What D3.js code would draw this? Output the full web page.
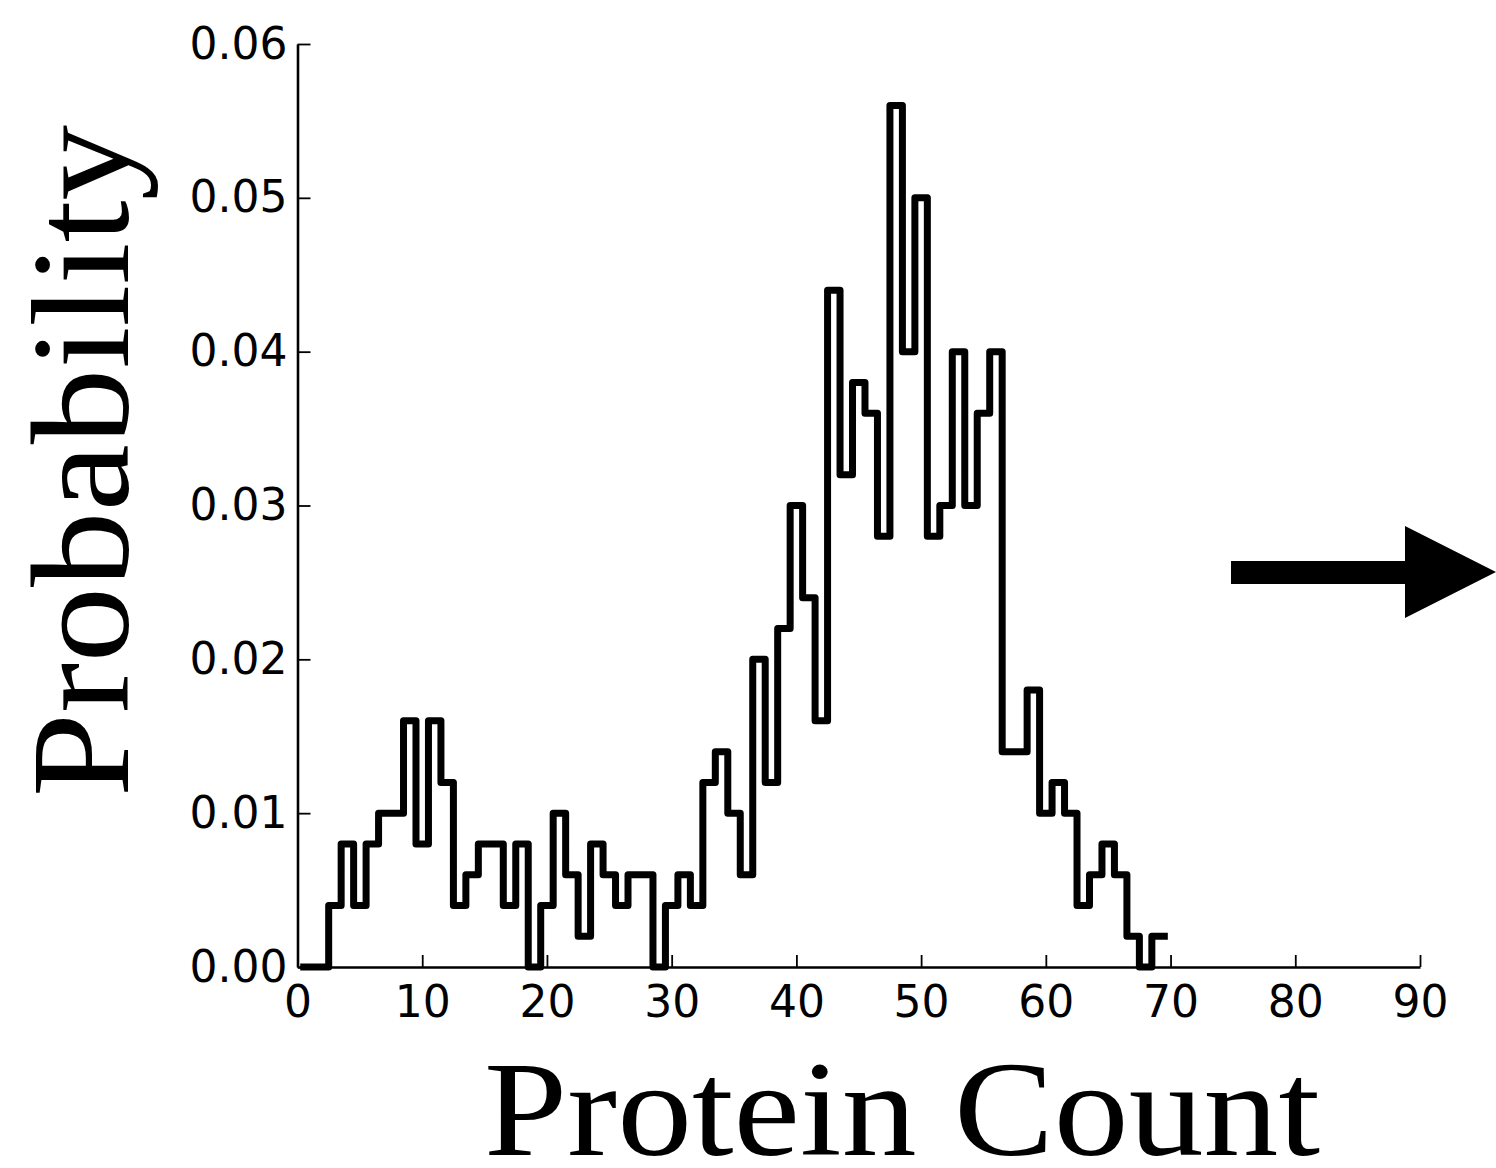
<!DOCTYPE html>
<html>
<head>
<meta charset="utf-8">
<script src="https://cdn.jsdelivr.net/npm/d3@7"></script>
<style>
  html, body { margin: 0; padding: 0; background: #fff; }
  svg { display: block; }
</style>
</head>
<body>
<svg id="chart" width="1496" height="1168"></svg>
<script>
// Protein count values (one bin per integer count, bin edges at n ± 0.5)
const counts = [
   1,  2,  3,  4,  5,  6,  7,  8,  9, 10,
  11, 12, 13, 14, 15, 16, 17, 18, 19, 20,
  21, 22, 23, 24, 25, 26, 27, 28, 29, 30,
  31, 32, 33, 34, 35, 36, 37, 38, 39, 40,
  41, 42, 43, 44, 45, 46, 47, 48, 49, 50,
  51, 52, 53, 54, 55, 56, 57, 58, 59, 60,
  61, 62, 63, 64, 65, 66, 67, 68, 69
];
// Empirical probability of each count
const probability = [
  0.000, 0.000, 0.004, 0.008, 0.004, 0.008, 0.010, 0.010, 0.016, 0.008,
  0.016, 0.012, 0.004, 0.006, 0.008, 0.008, 0.004, 0.008, 0.000, 0.004,
  0.010, 0.006, 0.002, 0.008, 0.006, 0.004, 0.006, 0.006, 0.000, 0.004,
  0.006, 0.004, 0.012, 0.014, 0.010, 0.006, 0.020, 0.012, 0.022, 0.030,
  0.024, 0.016, 0.044, 0.032, 0.038, 0.036, 0.028, 0.056, 0.040, 0.050,
  0.028, 0.030, 0.040, 0.030, 0.036, 0.040, 0.014, 0.014, 0.018, 0.010,
  0.012, 0.010, 0.004, 0.006, 0.008, 0.006, 0.002, 0.000, 0.002
];
const xTicks = [0, 10, 20, 30, 40, 50, 60, 70, 80, 90];
const yTicks = [0.00, 0.01, 0.02, 0.03, 0.04, 0.05, 0.06];
const xTitle = "Protein Count";
const yTitle = "Probability";

const svg = d3.select("#chart");

const x = d3.scaleLinear().domain([0, 90]).range([297.5, 1420]);
const y = d3.scaleLinear().domain([0, 0.06]).range([967, 44]);

const tickFont = "'DejaVu Sans', 'Liberation Sans', sans-serif";
const titleFont = "'Liberation Serif', 'DejaVu Serif', serif";

// Bottom axis
const gx = svg.append("g")
  .attr("transform", `translate(0,${y(0)})`)
  .call(d3.axisBottom(x).tickValues(xTicks).tickSizeInner(-12).tickSizeOuter(0).tickPadding(19).tickFormat(d3.format("d")));

// Left axis
const gy = svg.append("g")
  .attr("transform", `translate(${x(0)},0)`)
  .call(d3.axisLeft(y).tickValues(yTicks).tickSizeInner(-13).tickSizeOuter(0).tickPadding(10).tickFormat(d3.format(".2f")));

[gx, gy].forEach(g => {
  g.select(".domain").attr("stroke", "#000").attr("stroke-width", 2.6);
  g.selectAll(".tick line").attr("stroke", "#000").attr("stroke-width", 1.8);
  g.selectAll(".tick text")
    .attr("fill", "#000")
    .style("font-family", tickFont)
    .style("font-size", "44px");
});

// Step outline of the distribution
const stepPoints = counts.map((c, i) => [c - 0.5, probability[i]]);
stepPoints.push([counts[counts.length - 1] + 0.5, probability[probability.length - 1]]);

const stepLine = d3.line()
  .x(d => x(d[0]))
  .y(d => y(d[1]))
  .curve(d3.curveStepAfter);

svg.append("path")
  .datum(stepPoints)
  .attr("d", stepLine)
  .attr("fill", "none")
  .attr("stroke", "#000")
  .attr("stroke-width", 7)
  .attr("stroke-linejoin", "round")
  .attr("stroke-linecap", "square");

// Axis titles
svg.append("text")
  .attr("x", 902)
  .attr("y", 1155)
  .attr("text-anchor", "middle")
  .attr("textLength", 836)
  .attr("lengthAdjust", "spacingAndGlyphs")
  .style("font-family", titleFont)
  .style("font-size", "136px")
  .text(xTitle);

svg.append("text")
  .attr("transform", "translate(128,461) rotate(-90)")
  .attr("text-anchor", "middle")
  .attr("textLength", 672)
  .attr("lengthAdjust", "spacingAndGlyphs")
  .style("font-family", titleFont)
  .style("font-size", "140px")
  .text(yTitle);

// Arrow pointing to the right
svg.append("path")
  .attr("d", "M1231,561 L1405,561 L1405,526 L1496,572 L1405,618 L1405,584 L1231,584 Z")
  .attr("fill", "#000");
</script>
</body>
</html>
